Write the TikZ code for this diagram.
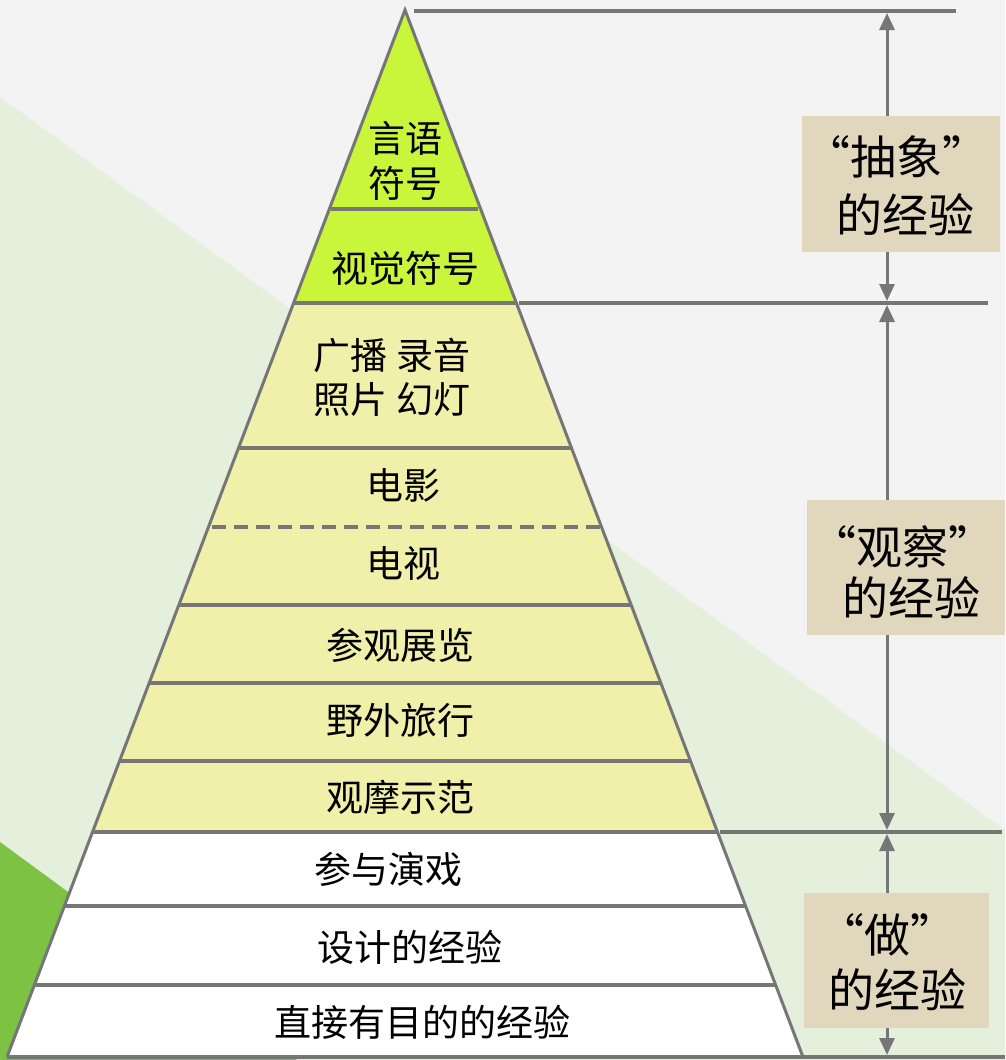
\documentclass[tikz,border=0pt]{standalone}
\usepackage{fontspec}
\setmainfont{Noto Sans CJK SC}
\usetikzlibrary{arrows.meta}
\definecolor{bggray}{HTML}{F3F3F3}
\definecolor{bandgreen}{HTML}{E4F0DC}
\definecolor{darkgreen}{HTML}{7DC242}
\definecolor{limeseg}{HTML}{C9F53A}
\definecolor{paleyellow}{HTML}{F0F0AA}
\definecolor{tanbox}{HTML}{E0D7BD}
\definecolor{linegray}{HTML}{767676}
\tikzset{
  segtext/.style={font=\fontsize{37}{44}\selectfont, inner sep=0pt, anchor=center, text=black},
  boxtext/.style={font=\fontsize{46}{54}\selectfont, inner sep=0pt, anchor=center, text=black},
  divider/.style={draw=linegray, line width=4pt},
  outline/.style={draw=linegray, line width=3pt, line join=miter},
  guide/.style={draw=linegray, line width=4pt},
  dimarrow/.style={draw=linegray, line width=3pt, {Triangle[width=15pt,length=17pt]}-{Triangle[width=15pt,length=17pt]}, color=linegray},
  labelbox/.style={fill=tanbox, draw=none}
}
\begin{document}
\begin{tikzpicture}[x=1pt,y=-1pt]
\useasboundingbox (0,0) rectangle (1005,1060);
% background
\fill[bggray] (0,0) rectangle (1005,1060);
\fill[bandgreen] (0,97) -- (1005,830) -- (1005,1060) -- (0,1060) -- cycle;
\fill[darkgreen] (0,842) -- (297,1060) -- (0,1060) -- cycle;

% pyramid fills
\fill[limeseg] (405,10) -- (516.4,303) -- (293.6,303) -- cycle;
\fill[paleyellow] (293.6,303) -- (516.4,303) -- (717.5,832) -- (92.5,832) -- cycle;
\fill[white] (92.5,832) -- (717.5,832) -- (803,1057) -- (7,1057) -- cycle;

% dividers
\draw[divider] (331,209) -- (478,209);
\draw[divider] (293.6,303) -- (516.4,303);
\draw[divider] (238.5,448) -- (571.5,448);
\draw[draw=linegray, line width=4pt, dash pattern=on 14pt off 8pt] (212,526.5) -- (604,526.5);
\draw[divider] (178.8,605) -- (631.2,605);
\draw[divider] (149.2,683) -- (660.8,683);
\draw[divider] (119.5,761) -- (690.5,761);
\draw[divider] (92.5,832) -- (717.5,832);
\draw[divider] (64.4,906) -- (745.6,906);
\draw[divider] (34.4,985) -- (775.6,985);
\draw[divider] (7,1057) -- (803,1057);

% pyramid outline
\coordinate (apex) at (405,10);
\coordinate (bl) at (7,1057);
\coordinate (br) at (803,1057);
\draw[outline] (bl) -- (apex) -- (br);

% right guide lines
\coordinate (g0l) at (414,11);   \coordinate (g0r) at (956,11);
\coordinate (g1l) at (519,303);  \coordinate (g1r) at (988,303);
\coordinate (g2l) at (720,832);  \coordinate (g2r) at (1002,832);
\coordinate (g3l) at (803,1057); \coordinate (g3r) at (1005,1057);
\draw[guide] (g0l) -- (g0r);
\draw[guide] (g1l) -- (g1r);
\draw[guide] (g2l) -- (g2r);
\draw[guide] (g3l) -- (g3r);

% dimension arrows
\coordinate (a0) at (887,13);
\coordinate (a1t) at (887,301);
\coordinate (a1b) at (887,305);
\coordinate (a2t) at (887,830);
\coordinate (a2b) at (887,834);
\coordinate (a3) at (887,1055);
\draw[dimarrow] (a0) -- (a1t);
\draw[dimarrow] (a1b) -- (a2t);
\draw[dimarrow] (a2b) -- (a3);

% label boxes
\fill[labelbox] (802,116) rectangle (1000,252);
\fill[labelbox] (807,500) rectangle (1005,635);
\fill[labelbox] (804,893) rectangle (989,1028);

\node[boxtext] (abs1) at (896,157) {“抽象”};
\node[boxtext] (abs2) at (905,215) {的经验};
\node[boxtext] (obs1) at (902,547) {“观察”};
\node[boxtext] (obs2) at (911,598) {的经验};
\node[boxtext] (do1) at (887,935) {“做”};
\node[boxtext] (do2) at (897,990) {的经验};

% segment texts
\node[segtext] (t1a) at (405,138) {言语};
\node[segtext] (t1b) at (405,183) {符号};
\node[segtext] (t2) at (405,268) {视觉符号};
\node[segtext] (t3a) at (392,355) {广播 录音};
\node[segtext] (t3b) at (392,400) {照片 幻灯};
\node[segtext] (t4) at (403,485) {电影};
\node[segtext] (t5) at (403,563) {电视};
\node[segtext] (t6) at (400,645) {参观展览};
\node[segtext] (t7) at (400,720) {野外旅行};
\node[segtext] (t8) at (400,797) {观摩示范};
\node[segtext] (t9) at (388,869) {参与演戏};
\node[segtext] (t10) at (410,947) {设计的经验};
\node[segtext] (t11) at (422,1022) {直接有目的的经验};
\end{tikzpicture}
\end{document}
